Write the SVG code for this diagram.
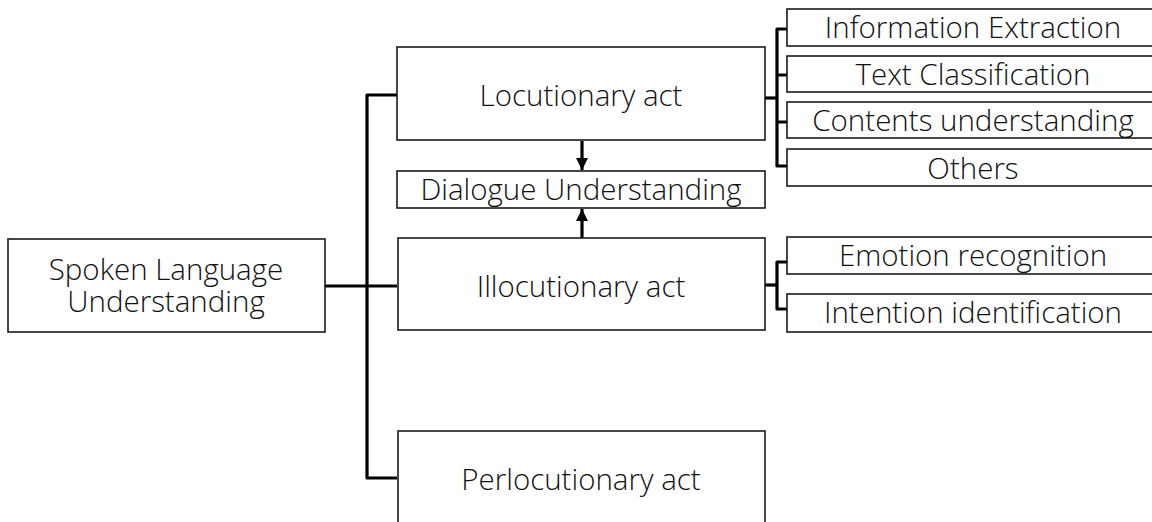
<svg xmlns="http://www.w3.org/2000/svg" width="1152" height="522" viewBox="0 0 1152 522">
  <style>
    .box { fill: #ffffff; stroke: #1a1a1a; stroke-width: 1.6; }
    .lbl { font-family: "Open Sans", "Liberation Sans", Arial, sans-serif; font-weight: 300; font-size: 29.5px; fill: #111111; text-anchor: middle; }
    .wire { fill: none; stroke: #000000; stroke-width: 3.2; stroke-linejoin: round; }
  </style>
  <defs>
    <marker id="head" viewBox="0 0 12 12" refX="12" refY="6" markerWidth="12" markerHeight="12" markerUnits="userSpaceOnUse" orient="auto">
      <path d="M0,0 L12,6 L0,12 Z" fill="#000000"/>
    </marker>
  </defs>

  <!-- connectors -->
  <g id="connectors">
    <!-- trunk from the root to the three acts -->
    <path class="wire" d="M325,286 H397"/>
    <path class="wire" d="M397,95 H367 V478 H397"/>
    <!-- locutionary branches -->
    <path class="wire" d="M765,98 H777"/>
    <path class="wire" d="M787,29 H777 V166 H787"/>
    <path class="wire" d="M777,75 H787 M777,122 H787"/>
    <!-- illocutionary branches -->
    <path class="wire" d="M765,285 H777"/>
    <path class="wire" d="M787,262 H777 V309 H787"/>
    <!-- arrows into dialogue understanding -->
    <path class="wire" d="M582,141 V170" marker-end="url(#head)"/>
    <path class="wire" d="M582,238 V209" marker-end="url(#head)"/>
  </g>

  <g id="node-slu">
    <rect class="box" x="8" y="239" width="317" height="93"/>
    <text class="lbl" x="166" y="280"><tspan x="166">Spoken Language</tspan><tspan x="166" dy="32">Understanding</tspan></text>
  </g>

  <g id="node-locutionary">
    <rect class="box" x="397" y="47" width="368" height="93"/>
    <text class="lbl" x="581" y="106">Locutionary act</text>
  </g>

  <g id="node-dialogue">
    <rect class="box" x="397" y="171" width="368" height="37"/>
    <text class="lbl" x="581" y="200">Dialogue Understanding</text>
  </g>

  <g id="node-illocutionary">
    <rect class="box" x="398" y="238" width="367" height="92"/>
    <text class="lbl" x="581" y="297">Illocutionary act</text>
  </g>

  <g id="node-perlocutionary">
    <rect class="box" x="398" y="431" width="367" height="100"/>
    <text class="lbl" x="581" y="490">Perlocutionary act</text>
  </g>

  <g id="node-info-extraction">
    <rect class="box" x="787" y="9" width="372" height="37"/>
    <text class="lbl" x="973" y="38">Information Extraction</text>
  </g>

  <g id="node-text-classification">
    <rect class="box" x="787" y="56" width="372" height="36"/>
    <text class="lbl" x="973" y="85">Text Classification</text>
  </g>

  <g id="node-contents">
    <rect class="box" x="787" y="102" width="372" height="36"/>
    <text class="lbl" x="973" y="131">Contents understanding</text>
  </g>

  <g id="node-others">
    <rect class="box" x="787" y="149" width="372" height="37"/>
    <text class="lbl" x="973" y="179">Others</text>
  </g>

  <g id="node-emotion">
    <rect class="box" x="787" y="237" width="372" height="37"/>
    <text class="lbl" x="973" y="266">Emotion recognition</text>
  </g>

  <g id="node-intention">
    <rect class="box" x="787" y="294" width="372" height="38"/>
    <text class="lbl" x="973" y="323">Intention identification</text>
  </g>
</svg>
